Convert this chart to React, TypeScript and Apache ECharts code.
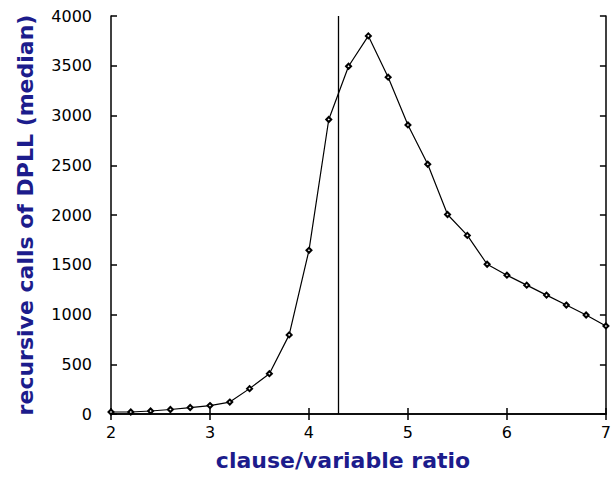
import React, { useEffect, useRef } from "react";
import * as echarts from "echarts";

const ratios = [2, 2.2, 2.4, 2.6, 2.8, 3, 3.2, 3.4, 3.6, 3.8, 4, 4.2, 4.4, 4.6, 4.8, 5, 5.2, 5.4, 5.6, 5.8, 6, 6.2, 6.4, 6.6, 6.8, 7];
const calls = [20, 20, 30, 45, 65, 85, 120, 255, 405, 795, 1645, 2960, 3495, 3800, 3385, 2905, 2510, 2005, 1795, 1505, 1395, 1295, 1195, 1095, 995, 885];
const threshold = 4.3;
const xTitle = "clause/variable ratio";
const yTitle = "recursive calls of DPLL (median)";

export default function App() {
  const ref = useRef<HTMLDivElement>(null);
  useEffect(() => {
    if (!ref.current) return;
    const chart = echarts.init(ref.current, null, { renderer: "svg" });
    const labelFont = { fontFamily: "DejaVu Sans", fontSize: 16, color: "#000" };
    const axisLine = { show: true, lineStyle: { color: "#000", width: 1.5 } };
    const tick = { show: true, inside: true, length: 6, lineStyle: { color: "#000", width: 1.5 } };
    chart.setOption({
      animation: false,
      backgroundColor: "#fff",
      grid: { left: 111, top: 16, right: 5, bottom: 68 },
      xAxis: [
        {
          type: "value", min: 2, max: 7, interval: 1, position: "bottom",
          axisLine, axisTick: tick, splitLine: { show: false },
          axisLabel: { ...labelFont, margin: 10, formatter: (v: number) => String(v) },
        },
        {
          type: "value", min: 2, max: 7, interval: 1, position: "top",
          axisLine, axisTick: tick, splitLine: { show: false },
          axisLabel: { show: false },
        },
      ],
      yAxis: [
        {
          type: "value", min: 0, max: 4000, interval: 500, position: "left",
          axisLine, axisTick: tick, splitLine: { show: false },
          axisLabel: { ...labelFont, margin: 19, formatter: (v: number) => String(v) },
        },
        {
          type: "value", min: 0, max: 4000, interval: 500, position: "right",
          axisLine, axisTick: tick, splitLine: { show: false },
          axisLabel: { show: false },
        },
      ],
      graphic: [
        {
          type: "text", x: 25, y: 215, rotation: Math.PI / 2,
          style: {
            text: yTitle, font: 'bold 22px "DejaVu Sans"', fill: "#1c1c8c",
            align: "center", verticalAlign: "middle",
          },
        },
        {
          type: "text", x: 343, y: 460,
          style: {
            text: xTitle, font: 'bold 22px "DejaVu Sans"', fill: "#1c1c8c",
            align: "center", verticalAlign: "middle",
          },
        },
      ],
      series: [
        {
          type: "line",
          data: ratios.map((r, i) => [r, calls[i]]),
          symbol: "emptyDiamond",
          symbolSize: 5,
          lineStyle: { color: "#000", width: 1.2 },
          itemStyle: { color: "#000", borderColor: "#000", borderWidth: 1 },
          markLine: {
            silent: true,
            symbol: ["none", "none"],
            label: { show: false },
            lineStyle: { color: "#000", type: "solid", width: 1.3 },
            data: [{ xAxis: threshold }],
          },
        },
      ],
    });
    return () => chart.dispose();
  }, []);
  return <div ref={ref} style={{ width: 614, height: 482, position: "absolute", left: 0, top: 0 }} />;
}
